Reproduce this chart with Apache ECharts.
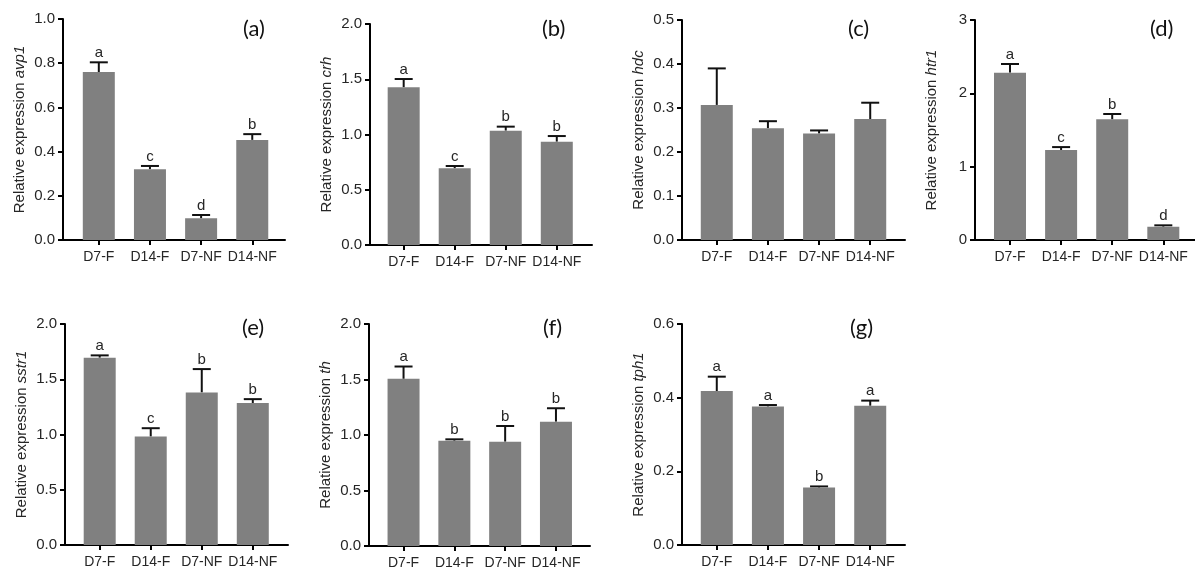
<!DOCTYPE html>
<html>
<head>
<meta charset="utf-8">
<script src="https://cdn.jsdelivr.net/npm/echarts@6/dist/echarts.min.js"></script>
<style>html,body{margin:0;padding:0;background:#fff}#c{width:1195px;height:571px}</style>
</head>
<body>
<div id="c"></div>
<script>
// ---- data ----
const categories = ['D7-F', 'D14-F', 'D7-NF', 'D14-NF'];
const panelLabels = ['(a)', '(b)', '(c)', '(d)', '(e)', '(f)', '(g)'];
const genes = ['avp1', 'crh', 'hdc', 'htr1', 'sstr1', 'th', 'tph1'];

const avp1Mean = [0.76, 0.32, 0.098, 0.453];
const avp1Err = [0.044, 0.015, 0.015, 0.026];
const avp1Letters = ['a', 'c', 'd', 'b'];

const crhMean = [1.427, 0.694, 1.035, 0.935];
const crhErr = [0.075, 0.021, 0.036, 0.051];
const crhLetters = ['a', 'c', 'b', 'b'];

const hdcMean = [0.307, 0.254, 0.242, 0.275];
const hdcErr = [0.083, 0.016, 0.007, 0.037];
const hdcLetters = ['', '', '', ''];

const htr1Mean = [2.282, 1.227, 1.645, 0.182];
const htr1Err = [0.118, 0.04, 0.073, 0.018];
const htr1Letters = ['a', 'c', 'b', 'd'];

const sstr1Mean = [1.695, 0.982, 1.381, 1.284];
const sstr1Err = [0.021, 0.075, 0.211, 0.036];
const sstr1Letters = ['a', 'c', 'b', 'b'];

const thMean = [1.506, 0.949, 0.94, 1.12];
const thErr = [0.111, 0.012, 0.141, 0.121];
const thLetters = ['a', 'b', 'b', 'b'];

const tph1Mean = [0.418, 0.376, 0.156, 0.378];
const tph1Err = [0.039, 0.004, 0.003, 0.014];
const tph1Letters = ['a', 'a', 'b', 'a'];

const yMax = [1.0, 2.0, 0.5, 3, 2.0, 2.0, 0.6];
const yStep = [0.2, 0.5, 0.1, 1, 0.5, 0.5, 0.2];
const yDecimals = [1, 1, 1, 0, 1, 1, 1];

// ---- layout ----
const layout = [
  {l: 63, t: 19, r: 285, b: 240, xmin: -0.70, xmax: 3.64, lx: 258, ly: 33},
  {l: 370, t: 24, r: 592, b: 245, xmin: -0.66, xmax: 3.69, lx: 557, ly: 33},
  {l: 682, t: 20, r: 905, b: 240, xmin: -0.68, xmax: 3.68, lx: 863, ly: 33},
  {l: 975, t: 20, r: 1195, b: 240, xmin: -0.685, xmax: 3.62, lx: 1165, ly: 33},
  {l: 65, t: 324, r: 288, b: 545, xmin: -0.68, xmax: 3.69, lx: 257, ly: 332},
  {l: 369, t: 324, r: 590, b: 546, xmin: -0.68, xmax: 3.67, lx: 558, ly: 332},
  {l: 682, t: 324, r: 905, b: 545, xmin: -0.68, xmax: 3.68, lx: 865, ly: 332}
];

const means = [avp1Mean, crhMean, hdcMean, htr1Mean, sstr1Mean, thMean, tph1Mean];
const errs = [avp1Err, crhErr, hdcErr, htr1Err, sstr1Err, thErr, tph1Err];
const letters = [avp1Letters, crhLetters, hdcLetters, htr1Letters, sstr1Letters, thLetters, tph1Letters];

const FONT = '"Liberation Sans", Arial, sans-serif';
const TXT = '#262626';

const grid = [], xAxis = [], yAxis = [], series = [], graphic = [];
layout.forEach((p, i) => {
  grid.push({left: p.l, top: p.t, width: p.r - p.l, height: p.b - p.t, containLabel: false});
  xAxis.push({
    type: 'value', gridIndex: i, min: p.xmin, max: p.xmax,
    axisLine: {show: true, onZero: false, lineStyle: {color: '#000', width: 2}},
    axisTick: {show: true, length: 5, lineStyle: {color: '#000', width: 2}, customValues: [0, 1, 2, 3]},
    axisLabel: {show: true, customValues: [0, 1, 2, 3], formatter: v => categories[Math.round(v)],
      fontFamily: FONT, fontSize: 14, color: TXT, margin: 10},
    splitLine: {show: false}
  });
  yAxis.push({
    type: 'value', gridIndex: i, min: 0, max: yMax[i], interval: yStep[i],
    name: '{n|Relative expression }{g|' + genes[i] + '}',
    nameLocation: 'middle', nameGap: 36, nameRotate: 90,
    nameTextStyle: {rich: {
      n: {fontFamily: FONT, fontSize: 15, color: TXT},
      g: {fontFamily: FONT, fontSize: 15, color: TXT, fontStyle: 'italic'}
    }},
    axisLine: {show: true, onZero: false, lineStyle: {color: '#000', width: 2}},
    axisTick: {show: true, length: 5, lineStyle: {color: '#000', width: 2}},
    axisLabel: {fontFamily: FONT, fontSize: 15, color: TXT, margin: 8,
      formatter: v => v.toFixed(yDecimals[i])},
    splitLine: {show: false}
  });
  series.push({
    type: 'bar', xAxisIndex: i, yAxisIndex: i, barWidth: 32,
    itemStyle: {color: '#808080'},
    data: means[i].map((m, k) => [k, m]),
    silent: true
  });
  const lt = letters[i];
  series.push({
    type: 'custom', xAxisIndex: i, yAxisIndex: i, silent: true,
    data: means[i].map((m, k) => [k, m, errs[i][k]]),
    renderItem: (params, api) => {
      const x = api.value(0), m = api.value(1), e = api.value(2);
      const b = api.coord([x, m]);
      const t = api.coord([x, m + e]);
      const children = [
        {type: 'line', shape: {x1: b[0], y1: b[1], x2: t[0], y2: t[1]}, style: {stroke: '#111', lineWidth: 2}},
        {type: 'line', shape: {x1: t[0] - 9, y1: t[1], x2: t[0] + 9, y2: t[1]}, style: {stroke: '#111', lineWidth: 2}}
      ];
      const L = lt[params.dataIndex];
      if (L) {
        children.push({type: 'text', x: t[0], y: t[1] - 2,
          style: {text: L, fontFamily: FONT, fontSize: 15, fill: TXT, align: 'center', verticalAlign: 'bottom'}});
      }
      return {type: 'group', children};
    }
  });
  graphic.push({type: 'text', left: p.lx - 15, top: p.ly - 15,
    style: {text: panelLabels[i], fontFamily: 'Lato, "Open Sans", sans-serif', fontSize: 22, fill: '#111'}});
});

const chart = echarts.init(document.getElementById('c'), null, {renderer: 'canvas'});
chart.setOption({animation: false, backgroundColor: '#fff', grid, xAxis, yAxis, series, graphic});
</script>
</body>
</html>
